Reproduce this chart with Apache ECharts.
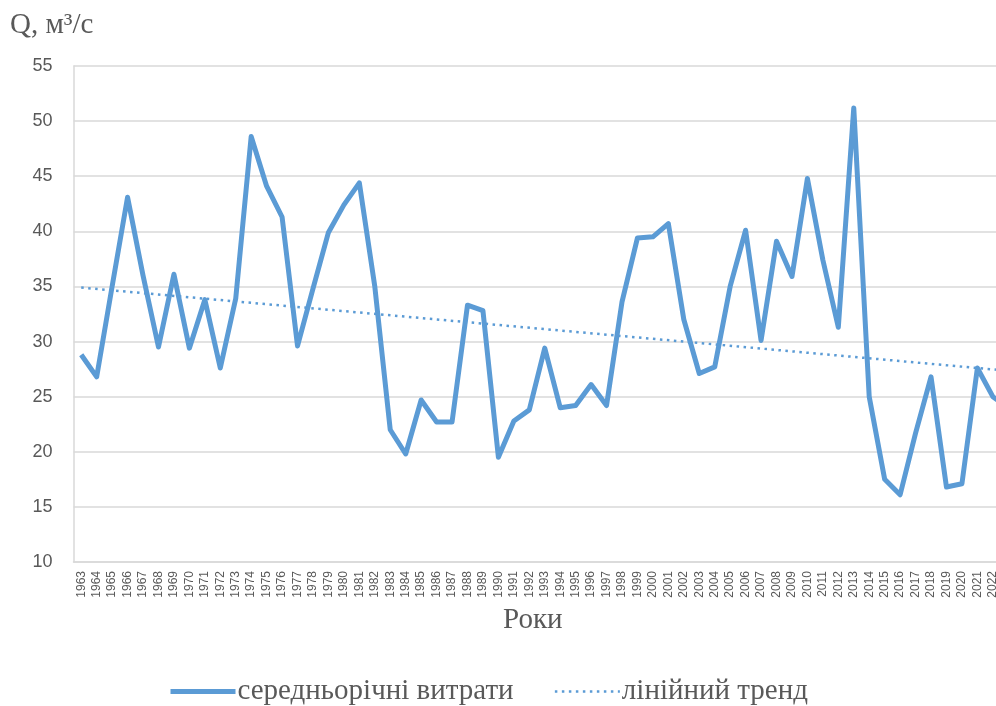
<!DOCTYPE html>
<html>
<head>
<meta charset="utf-8">
<script src="https://cdn.jsdelivr.net/npm/echarts@6/dist/echarts.min.js"></script>
<style>html,body{margin:0;padding:0;background:#fff;overflow:hidden;width:996px;height:706px;}#c{width:1020px;height:706px;}</style>
</head>
<body>
<div id="c"></div>
<script>
const years = ['1963','1964','1965','1966','1967','1968','1969','1970','1971','1972','1973','1974','1975','1976','1977','1978','1979','1980','1981','1982','1983','1984','1985','1986','1987','1988','1989','1990','1991','1992','1993','1994','1995','1996','1997','1998','1999','2000','2001','2002','2003','2004','2005','2006','2007','2008','2009','2010','2011','2012','2013','2014','2015','2016','2017','2018','2019','2020','2021','2022','2023'];
const flow = [28.8,26.8,35.0,43.1,36.0,29.5,36.1,29.4,33.8,27.6,33.9,48.6,44.1,41.3,29.6,34.8,39.9,42.4,44.4,35.0,22.0,19.8,24.7,22.7,22.7,33.3,32.8,19.5,22.8,23.8,29.4,24.0,24.2,26.1,24.2,33.6,39.4,39.5,40.7,32.0,27.1,27.7,35.0,40.1,30.1,39.1,35.9,44.8,37.4,31.3,51.2,25.0,17.5,16.1,21.7,26.8,16.8,17.1,27.6,25.0,24.0];
const trendEnds = [34.9, 27.35];
const yTicks = {min: 10, max: 55, step: 5};
const seriesNames = ['середньорічні витрати', 'лінійний тренд'];

const trendData = years.map((y, i) => i === 0 ? trendEnds[0] : (i === years.length - 1 ? trendEnds[1] : null));

const chart = echarts.init(document.getElementById('c'));
chart.setOption({
  animation: false,
  backgroundColor: '#ffffff',
  title: {
    text: 'Q, м³/с',
    left: 5, top: 6,
    textStyle: {fontFamily: 'Liberation Serif', fontSize: 29, fontWeight: 'normal', color: '#595959'}
  },
  grid: {left: 73.5, top: 66, bottom: 144, right: 4, containLabel: false},
  legend: {
    left: 163, top: 672,
    itemWidth: 65, itemHeight: 14, itemGap: 40,
    itemStyle: {opacity: 0},
    textStyle: {fontFamily: 'Liberation Serif', fontSize: 29, color: '#595959', padding: [0, 0, 0, -3]},
    data: [
      {name: seriesNames[0], lineStyle: {width: 5}},
      {name: seriesNames[1], lineStyle: {width: 2.5}}
    ]
  },
  xAxis: {
    type: 'category',
    data: years,
    boundaryGap: true,
    name: 'Роки',
    nameLocation: 'middle',
    nameGap: 44,
    nameTextStyle: {fontFamily: 'Liberation Serif', fontSize: 29, color: '#595959', padding: [0, 24, 0, 0]},
    axisLine: {lineStyle: {color: '#d9d9d9', width: 1.5}},
    axisTick: {show: false},
    axisLabel: {interval: 0, rotate: 90, fontSize: 12, color: '#595959', fontFamily: 'Liberation Sans', margin: 9}
  },
  yAxis: {
    type: 'value',
    min: yTicks.min, max: yTicks.max, interval: yTicks.step,
    axisLine: {show: true, lineStyle: {color: '#d9d9d9', width: 1.5}},
    axisTick: {show: false},
    axisLabel: {fontSize: 18, color: '#595959', fontFamily: 'Liberation Sans', margin: 21},
    splitLine: {lineStyle: {color: '#d9d9d9', width: 1.5}}
  },
  series: [
    {
      name: seriesNames[0], type: 'line', data: flow,
      symbol: 'none', lineStyle: {color: '#5b9bd5', width: 5, join: 'round'},
      itemStyle: {color: '#5b9bd5'}
    },
    {
      name: seriesNames[1], type: 'line', data: trendData, connectNulls: true,
      symbol: 'none', lineStyle: {color: '#5b9bd5', width: 2.5, type: [2.5, 4.5], cap: 'butt'},
      itemStyle: {color: '#5b9bd5'}
    }
  ]
});
</script>
</body>
</html>
